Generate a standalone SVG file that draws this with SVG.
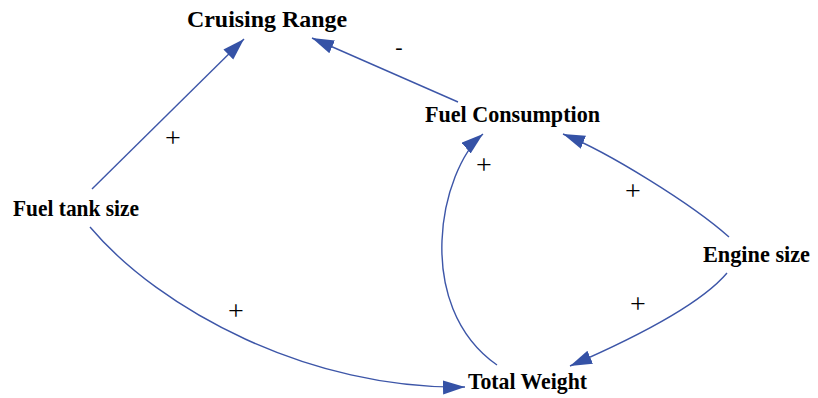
<svg xmlns="http://www.w3.org/2000/svg" width="818" height="398" viewBox="0 0 818 398">
<style>
.node text{font-family:"Liberation Serif","Times New Roman",serif;font-weight:bold;font-size:24px;fill:#000}
.conn path{fill:none;stroke:#3d56a8;stroke-width:1.4}
.sign{font-family:"Liberation Serif","Times New Roman",serif;font-size:28px;fill:#000;text-anchor:middle}
</style>
<defs>
<marker id="ah" markerUnits="userSpaceOnUse" markerWidth="23" markerHeight="15" refX="22" refY="7" orient="auto">
<path d="M0,0 L22,7 L0,14 z" fill="#3552a6"/>
</marker>
</defs>
<rect width="818" height="398" fill="#fff"/>
<g id="cruising-range" class="node"><text x="187" y="27" textLength="160" lengthAdjust="spacingAndGlyphs">Cruising Range</text></g>
<g id="fuel-consumption" class="node"><text x="425" y="122" textLength="175" lengthAdjust="spacingAndGlyphs">Fuel Consumption</text></g>
<g id="fuel-tank-size" class="node"><text x="13" y="216" textLength="126" lengthAdjust="spacingAndGlyphs">Fuel tank size</text></g>
<g id="engine-size" class="node"><text x="703" y="262" textLength="107" lengthAdjust="spacingAndGlyphs">Engine size</text></g>
<g id="total-weight" class="node"><text x="468" y="389" textLength="119" lengthAdjust="spacingAndGlyphs">Total Weight</text></g>
<g id="connectors" class="conn">
<path d="M92,189 L244,39" marker-end="url(#ah)"/>
<path d="M458,102 L312,38" marker-end="url(#ah)"/>
<path d="M729,237 C692,204 608,152 563,134" marker-end="url(#ah)"/>
<path d="M727,273 C700,305 630,340 570,366" marker-end="url(#ah)"/>
<path d="M497,365 C412,305 440,170 483,134" marker-end="url(#ah)"/>
<path d="M90,227 C160,310 310,390 465,387" marker-end="url(#ah)"/>
</g>
<g id="labels">
<text class="sign" x="173" y="147">+</text>
<text class="sign" x="399" y="54" style="font-size:22px">-</text>
<text class="sign" x="633" y="200">+</text>
<text class="sign" x="638" y="313">+</text>
<text class="sign" x="484" y="174">+</text>
<text class="sign" x="236" y="320">+</text>
</g>
</svg>
